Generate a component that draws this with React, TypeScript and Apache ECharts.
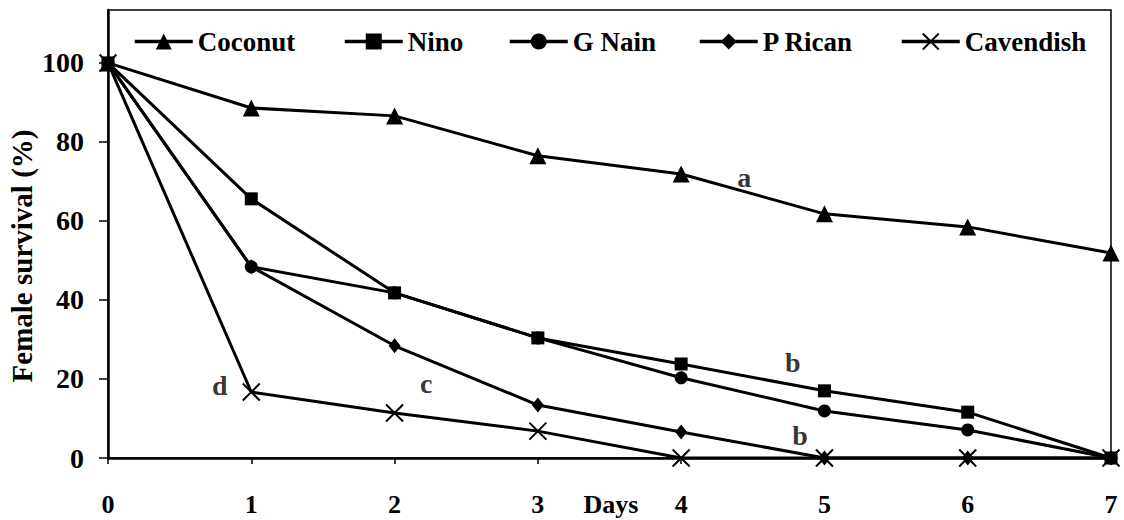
import React, { useEffect, useRef } from "react";
import * as echarts from "echarts";

const days = [0, 1, 2, 3, 4, 5, 6, 7];
const coconut = [100, 88.6, 86.6, 76.5, 71.9, 61.8, 58.5, 51.9];
const nino = [100, 65.6, 41.8, 30.4, 23.8, 17.0, 11.6, 0];
const gNain = [100, 48.4, 41.8, 30.4, 20.3, 11.9, 7.1, 0];
const pRican = [100, 48.4, 28.4, 13.4, 6.6, 0, 0, 0];
const cavendish = [100, 16.7, 11.4, 6.8, 0, 0, 0, 0];

const yTicks = [0, 20, 40, 60, 80, 100];
const xTicks = [0, 1, 2, 3, 4, 5, 6, 7];

const annotations = [
  { text: "a", day: 4.44, value: 70.9 },
  { text: "b", day: 4.78, value: 24.3 },
  { text: "c", day: 2.22, value: 18.8 },
  { text: "d", day: 0.78, value: 18.3 },
  { text: "b", day: 4.83, value: 5.6 },
];

const FONT = "Liberation Serif";
const CROSS = "path://M0,0L10,10M10,0L0,10";

const seriesDefs = [
  { name: "Coconut", data: coconut, symbol: "triangle", size: 17, legendLeft: 128 },
  { name: "Nino", data: nino, symbol: "rect", size: 13, legendLeft: 338 },
  { name: "G Nain", data: gNain, symbol: "circle", size: 13, legendLeft: 503 },
  { name: "P Rican", data: pRican, symbol: "diamond", size: [12, 15], legendLeft: 693 },
  { name: "Cavendish", data: cavendish, symbol: CROSS, size: 17, legendLeft: 895 },
];

export default function App() {
  const ref = useRef<HTMLDivElement>(null);
  useEffect(() => {
    if (!ref.current) return;
    const chart = echarts.init(ref.current, undefined, { renderer: "svg" });
    const series: any[] = seriesDefs.map((s) => {
      const isCross = s.symbol === CROSS;
      return {
        name: s.name,
        type: "line",
        data: days.map((d, i) => [d, s.data[i]]),
        symbol: s.symbol,
        symbolSize: s.size,
        color: "#000",
        lineStyle: { color: "#000", width: 3 },
        itemStyle: isCross
          ? { color: "none", borderColor: "#000", borderWidth: 2 }
          : { color: "#000", borderWidth: 0 },
        emphasis: { disabled: true },
      };
    });
    series.push({
      type: "scatter",
      silent: true,
      symbolSize: 0,
      data: annotations.map((a) => ({ name: a.text, value: [a.day, a.value] })),
      label: {
        show: true,
        position: "inside",
        formatter: (p: any) => p.name,
        color: "#000",
        textBorderWidth: 0,
        textBorderColor: "transparent",
        fontFamily: FONT,
        fontWeight: "bold",
        fontSize: 28,
      },
      z: 5,
    });
    const legends = seriesDefs.map((s) => ({
      data: [s.name],
      left: s.legendLeft,
      top: 23,
      itemWidth: 58,
      itemHeight: 20,
      selectedMode: false,
      lineStyle: { width: 3.5, color: "#000" },
      textStyle: {
        color: "#000",
        fontFamily: FONT,
        fontWeight: "bold",
        fontSize: 27,
        padding: [0, 0, 0, 0],
      },
    }));
    chart.setOption({
      animation: false,
      backgroundColor: "#fff",
      grid: {
        left: 108,
        right: 13,
        top: 10,
        bottom: 62,
        show: true,
        borderColor: "#000",
        borderWidth: 1.5,
        containLabel: false,
      },
      legend: legends,
      xAxis: {
        type: "value",
        min: 0,
        max: 7,
        interval: 1,
        axisLine: { show: true, onZero: false, lineStyle: { color: "#000", width: 2.5 } },
        axisTick: { show: true, inside: false, length: 6, lineStyle: { color: "#000", width: 1.5 }, customValues: xTicks },
        axisLabel: {
          color: "#000",
          fontFamily: FONT,
          fontWeight: "bold",
          fontSize: 26,
          margin: 33,
          customValues: xTicks,
        },
        splitLine: { show: false },
      },
      yAxis: {
        type: "value",
        min: 0,
        max: 113.4,
        axisLine: { show: true, onZero: false, lineStyle: { color: "#000", width: 2.5 } },
        axisTick: { show: true, inside: false, length: 9, lineStyle: { color: "#000", width: 1.5 }, customValues: yTicks },
        axisLabel: {
          color: "#000",
          fontFamily: FONT,
          fontWeight: "bold",
          fontSize: 28,
          margin: 24,
          customValues: yTicks,
        },
        splitLine: { show: false },
      },
      graphic: [
        {
          type: "text",
          x: 22,
          y: 256,
          rotation: Math.PI / 2,
          style: {
            text: "Female survival (%)",
            fill: "#000",
            font: `bold 29px ${FONT}`,
            textAlign: "center",
            textVerticalAlign: "middle",
          },
        },
        {
          type: "text",
          x: 611,
          y: 491,
          style: {
            text: "Days",
            fill: "#000",
            font: `bold 26px ${FONT}`,
            textAlign: "center",
            textVerticalAlign: "top",
          },
        },
      ],
      series,
    });
    return () => chart.dispose();
  }, []);
  return (
    <div
      ref={ref}
      style={{ position: "fixed", left: 0, top: 0, width: 1124, height: 520, background: "#fff" }}
    />
  );
}
